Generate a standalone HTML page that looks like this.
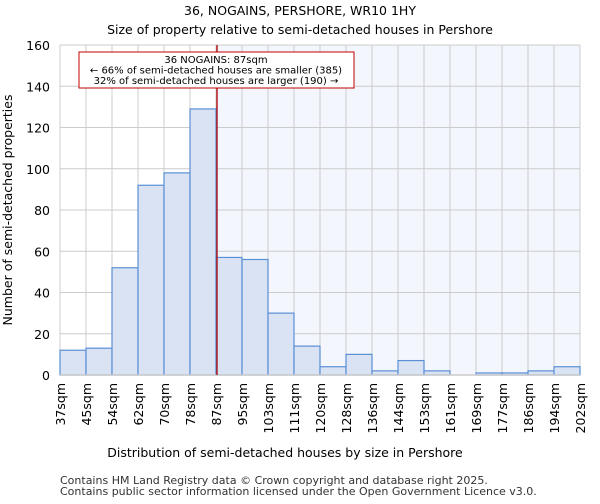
<!DOCTYPE html>
<html><head><meta charset="utf-8"><style>
body{margin:0;background:#fff;font-family:"DejaVu Sans","Liberation Sans",sans-serif;}
</style></head><body>
<svg width="600" height="500" xmlns="http://www.w3.org/2000/svg" font-family="DejaVu Sans, Liberation Sans, sans-serif">
<text x="300" y="15" text-anchor="middle" font-size="12.5">36, NOGAINS, PERSHORE, WR10 1HY</text>
<text x="300" y="34" text-anchor="middle" font-size="12.5">Size of property relative to semi-detached houses in Pershore</text>
<g id="plot"></g>
<text x="285" y="457" text-anchor="middle" font-size="12.5">Distribution of semi-detached houses by size in Pershore</text>
<text transform="translate(12,210) rotate(-90)" text-anchor="middle" font-size="12.5">Number of semi-detached properties</text>
<text x="60" y="484" font-size="11" fill="#333">Contains HM Land Registry data © Crown copyright and database right 2025.</text>
<text x="60" y="495" font-size="11" fill="#333">Contains public sector information licensed under the Open Government Licence v3.0.</text>
</svg>
<script>
const categories=["37sqm","45sqm","54sqm","62sqm","70sqm","78sqm","87sqm","95sqm","103sqm","111sqm","120sqm","128sqm","136sqm","144sqm","153sqm","161sqm","169sqm","177sqm","186sqm","194sqm","202sqm"];
const counts=[12,13,52,92,98,129,57,56,30,14,4,10,2,7,2,0,1,1,2,4];
const yTicks=[0,20,40,60,80,100,120,140,160];
const markerIndex=6;
const NS="http://www.w3.org/2000/svg";
const g=document.getElementById('plot');
const X0=60,X1=580,Y0=375,Y1=45,YMAX=160;
const bw=(X1-X0)/counts.length;
const xs=i=>X0+i*bw;
const ys=v=>Y0-(v/YMAX)*(Y0-Y1);
function mk(t,a){const e=document.createElementNS(NS,t);for(const k in a)e.setAttribute(k,a[k]);g.appendChild(e);return e;}
let e=mk('rect',{x:X0,y:Y1,width:X1-X0,height:Y0-Y1,fill:'#fff'});


e=mk('rect',{x:xs(markerIndex),y:Y1,width:X1-xs(markerIndex),height:Y0-Y1,fill:'#f3f6fd'});


yTicks.forEach(t=>{
 e=mk('line',{x1:X0,x2:X1,y1:ys(t),y2:ys(t),stroke:'#ccc','stroke-width':1});
 
 
 e=mk('text',{x:X0-10,y:ys(t)+5,'text-anchor':'end','font-size':12.5});e.textContent=t;
 
 
});
categories.forEach((c,i)=>{
 e=mk('line',{x1:xs(i),x2:xs(i),y1:Y1,y2:Y0,stroke:'#ccc','stroke-width':1});
 
 
 e=mk('text',{transform:`translate(${xs(i)+5},${Y0+8}) rotate(-90)`,'text-anchor':'end','font-size':12.5});e.textContent=c;
 
 
});
counts.forEach((v,i)=>{
 if(v<=0)return;
 e=mk('rect',{x:xs(i),y:ys(v),width:bw,height:Y0-ys(v),fill:'#dae3f3',stroke:'#5a8fd6','stroke-width':1.2});
 
 
});
e=mk('line',{x1:X0,x2:X1,y1:Y0,y2:Y0,stroke:'#ccc','stroke-width':1.5});


e=mk('line',{x1:xs(markerIndex)+1,x2:xs(markerIndex)+1,y1:Y1,y2:Y0,stroke:'#b00000','stroke-width':1.3});


e=mk('rect',{x:79,y:52,width:275,height:36,fill:'#fff',stroke:'#c00000','stroke-width':1});


[["36 NOGAINS: 87sqm",63],["← 66% of semi-detached houses are smaller (385)",73.5],["32% of semi-detached houses are larger (190) →",84]].forEach(([t,y],k)=>{
 e=mk('text',{x:216,y:y,'text-anchor':'middle','font-size':10});e.textContent=t;
 
 
});
</script>
</body></html>
